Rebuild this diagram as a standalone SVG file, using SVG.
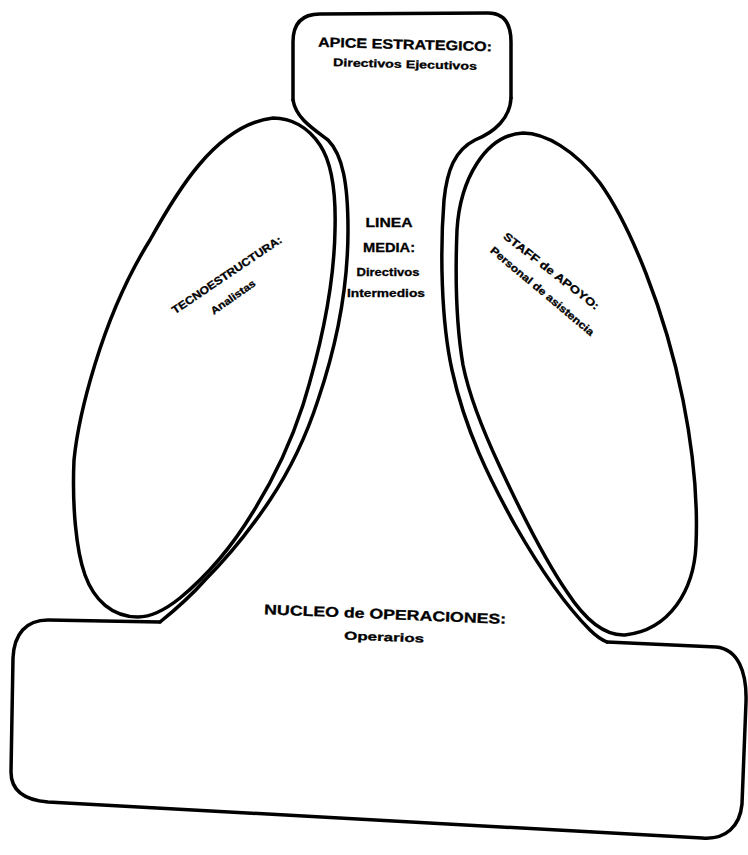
<svg xmlns="http://www.w3.org/2000/svg" width="748" height="855" viewBox="0 0 748 855">
<style>
.ln{fill:none;stroke:#000;stroke-width:3.5;stroke-linecap:round;stroke-linejoin:round}
.t{font-family:"Liberation Sans","DejaVu Sans",sans-serif;font-weight:bold;fill:#000;stroke:#000;stroke-width:0.3;text-anchor:middle}
</style>
<rect width="748" height="855" fill="#fff"/>
<g id="apice">
<path class="ln" d="M293,100 L293,42 C293,22 303,14 320,14 L488,13 C505,13 511,25 511,42 L511,98"/>
<text class="t" x="405" y="49" font-size="13.5" textLength="174" lengthAdjust="spacingAndGlyphs" transform="rotate(1.5 405 45)">APICE ESTRATEGICO:</text>
<text class="t" x="405" y="68" font-size="11" textLength="144" lengthAdjust="spacingAndGlyphs" transform="rotate(1.5 405 64)">Directivos Ejecutivos</text>
</g>
<g id="linea-media">
<path class="ln" d="M293,100 C296,118 312,128 328,140 C343,155 348,185 348,230 C348,290 335,350 318,400 C305,440 290,470 270,500 C250,530 230,555 205,580 C190,597 175,610 160,622"/>
<path class="ln" d="M511,98 C510,118 495,132 475,140 C455,150 447,170 444,200 C440,250 441,320 452,370 C465,430 490,480 515,525 C535,560 560,600 590,630 C597,637 602,640 607,642"/>
<text class="t" x="389" y="227" font-size="13" textLength="47" lengthAdjust="spacingAndGlyphs">LINEA</text>
<text class="t" x="389" y="252" font-size="13" textLength="52" lengthAdjust="spacingAndGlyphs">MEDIA:</text>
<text class="t" x="388" y="276" font-size="11.5" textLength="63" lengthAdjust="spacingAndGlyphs">Directivos</text>
<text class="t" x="386" y="297" font-size="11.5" textLength="78" lengthAdjust="spacingAndGlyphs">Intermedios</text>
</g>
<g id="tecnoestructura">
<path class="ln" d="M273,118 C291,118 308,127 320,145 C332,163 336,195 335,230 C334,290 320,350 303,405 C290,445 273,480 253,512 C233,545 208,575 180,598 C165,610 152,617 138,617 C112,617 94,600 85,575 C76,550 72,505 74,460 C78,420 100,320 150,240 C175,195 215,125 273,118 Z"/>
<text class="t" x="229" y="278" font-size="11" textLength="130" lengthAdjust="spacingAndGlyphs" transform="rotate(-34 229 278)">TECNOESTRUCTURA:</text>
<text class="t" x="235" y="300" font-size="10.5" textLength="52" lengthAdjust="spacingAndGlyphs" transform="rotate(-35 235 300)">Analistas</text>
</g>
<g id="staff">
<path class="ln" d="M523,133 C545,133 575,150 600,183 C630,225 665,310 683,400 C693,450 698,500 696,545 C694,590 670,630 625,635 C600,636 580,612 567,592 C545,560 520,510 500,467 C485,435 470,400 463,365 C457,330 455,280 457,230 C460,180 485,135 523,133 Z"/>
<text class="t" x="549" y="274" font-size="11" textLength="118" lengthAdjust="spacingAndGlyphs" transform="rotate(38 549 274)">STAFF de APOYO:</text>
<text class="t" x="540" y="294" font-size="10.5" textLength="132" lengthAdjust="spacingAndGlyphs" transform="rotate(40 540 294)">Personal de asistencia</text>
</g>
<g id="nucleo">
<path class="ln" d="M160,622 L48,620 C26,620 14,634 13,658 L11,772 C11,790 24,800 48,802 L702,838 C726,840 740,826 742,804 L746,702 C747,672 738,649 716,647 L607,642"/>
<text class="t" x="385" y="619" font-size="14" textLength="242" lengthAdjust="spacingAndGlyphs" transform="rotate(2.3 385 619)">NUCLEO de OPERACIONES:</text>
<text class="t" x="384" y="641" font-size="11.5" textLength="80" lengthAdjust="spacingAndGlyphs" transform="rotate(2.3 384 641)">Operarios</text>
</g>
<g id="connectors"/>
</svg>
